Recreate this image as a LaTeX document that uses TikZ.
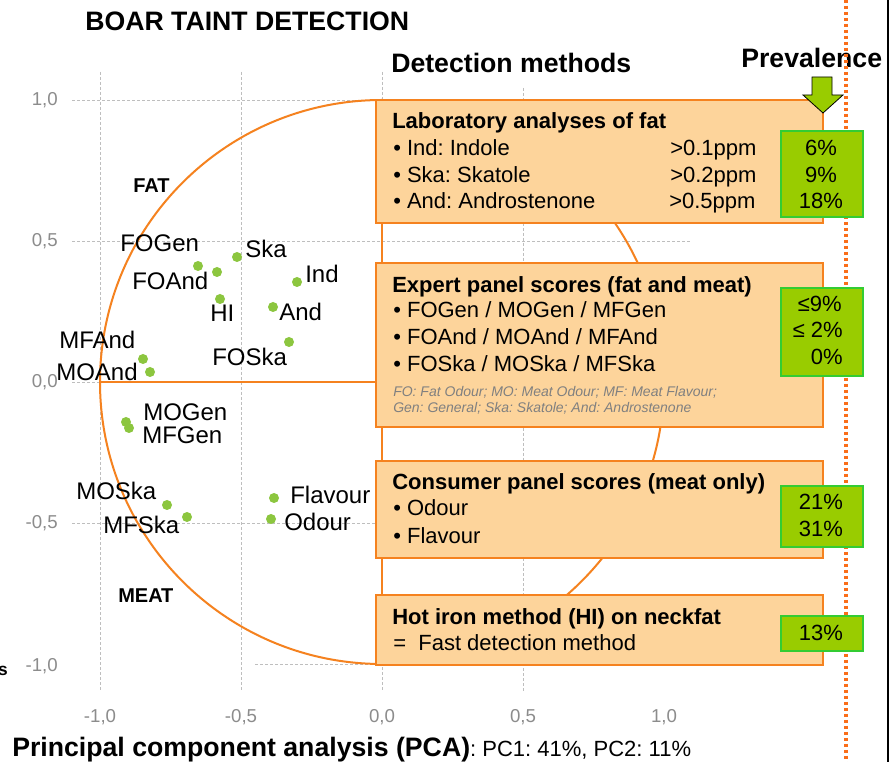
\documentclass[tikz,border=0pt]{standalone}
\usepackage{fontspec}
\setmainfont{Liberation Sans}
\definecolor{myorange}{RGB}{245,130,31}
\definecolor{dotorange}{RGB}{250,110,25}
\definecolor{boxfill}{RGB}{253,212,155}
\definecolor{gfill}{RGB}{153,204,0}
\definecolor{gborder}{RGB}{51,204,51}
\definecolor{dotgreen}{RGB}{140,198,63}
\definecolor{gridgrey}{RGB}{190,190,190}
\definecolor{tickgrey}{RGB}{140,140,140}
\definecolor{footgrey}{RGB}{128,128,128}
\begin{document}
\frenchspacing
\begin{tikzpicture}[x=0.75pt,y=-0.75pt,
  gridln/.style={draw=gridgrey, line width=0.6pt, dash pattern=on 2.25pt off 1.5pt},
  bigtitle/.style={inner sep=0pt, anchor=base west, font=\fontsize{20}{24}\selectfont\bfseries},
  boxhead/.style={inner sep=0pt, anchor=base west, font=\fontsize{16.5}{20}\selectfont\bfseries},
  boxtxt/.style={inner sep=0pt, anchor=base west, font=\fontsize{16.5}{20}\selectfont},
  pct/.style={inner sep=0pt, anchor=base, font=\fontsize{16.5}{20}\selectfont},
  pctr/.style={inner sep=0pt, anchor=base east, font=\fontsize{16.5}{20}\selectfont},
  foot/.style={inner sep=0pt, anchor=base west, font=\fontsize{10.5}{12}\selectfont\itshape, text=footgrey},
  lbl/.style={inner sep=0pt, anchor=base west, font=\fontsize{18}{21}\selectfont},
  zone/.style={inner sep=0pt, anchor=base west, font=\fontsize{15}{18}\selectfont\bfseries},
  ytick/.style={inner sep=0pt, anchor=base east, font=\fontsize{14}{16}\selectfont, text=tickgrey},
  xtick/.style={inner sep=0pt, anchor=base, font=\fontsize{14}{16}\selectfont, text=tickgrey},
  obox/.style={draw=myorange, fill=boxfill, line width=1.2pt},
  gbox/.style={draw=gborder, fill=gfill, line width=1.5pt},
  pdot/.style={circle, fill=dotgreen, inner sep=0pt, minimum size=7.5pt},
  oline/.style={draw=myorange, line width=1.5pt}]
\useasboundingbox (0,0) rectangle (896,762);
\fill[white] (0,0) rectangle (896,762);

% grid
\draw[gridln] (100,72) -- (100,692);
\draw[gridln] (241,72) -- (241,692);
\draw[gridln] (382,72) -- (382,692);
\draw[gridln] (523,88) -- (523,692);
\draw[gridln] (72,100) -- (382,100);
\draw[gridln] (72,241) -- (692,241);
\draw[gridln] (72,382) -- (382,382);
\draw[gridln] (72,523) -- (692,523);
\draw[gridln] (255,664) -- (382,664);

% tick labels
\node[ytick] (y10) at (58,106) {1,0};
\node[ytick] (y05) at (58,247) {0,5};
\node[ytick] (y00) at (58,388) {0,0};
\node[ytick] (ym05) at (58,529) {-0,5};
\node[ytick] (ym10) at (58,671) {-1,0};
\node[xtick] (xm10) at (100,722) {-1,0};
\node[xtick] (xm05) at (241,722) {-0,5};
\node[xtick] (x00) at (382,722) {0,0};
\node[xtick] (x05) at (523,722) {0,5};
\node[xtick] (x10) at (664,722) {1,0};
\node[inner sep=0pt, anchor=base east, font=\fontsize{13}{15}\selectfont\bfseries] (cuts) at (8,675) {s};

% correlation circle
\draw[oline] (382,382) circle[radius=211.5pt];
\draw[oline] (382,100) -- (382,664);
\draw[oline] (100,382) -- (382,382);

% titles
\node[bigtitle] (title) at (85,31) {BOAR TAINT DETECTION};
\node[bigtitle] (dm) at (391,73) {Detection methods};
\node[bigtitle] (prev) at (741,68) {Prevalence};

% zone labels
\node[zone] (fat) at (133,193) {FAT};
\node[zone] (meat) at (118,602) {MEAT};

% data points
\node[pdot] (pFOGen) at (198,266) {};
\node[pdot] (pFOAnd) at (217,272) {};
\node[pdot] (pSka) at (237,257) {};
\node[pdot] (pHI) at (220,299) {};
\node[pdot] (pInd) at (297,282) {};
\node[pdot] (pAnd) at (273,307) {};
\node[pdot] (pFOSka) at (289,342) {};
\node[pdot] (pMFAnd) at (143,359) {};
\node[pdot] (pMOAnd) at (150,372) {};
\node[pdot] (pMOGen) at (126,422) {};
\node[pdot] (pMFGen) at (129,428) {};
\node[pdot] (pMOSka) at (167,505) {};
\node[pdot] (pMFSka) at (187,517) {};
\node[pdot] (pFlav) at (274,498) {};
\node[pdot] (pOdour) at (271,519) {};

% data labels
\node[lbl] (lFOGen) at (120,252) {FOGen};
\node[lbl] (lSka) at (245,258) {Ska};
\node[lbl] (lFOAnd) at (132,290) {FOAnd};
\node[lbl] (lInd) at (305,283) {Ind};
\node[lbl] (lHI) at (210,322) {HI};
\node[lbl] (lAnd) at (279,321) {And};
\node[lbl] (lFOSka) at (212,366) {FOSka};
\node[lbl] (lMFAnd) at (59,349) {MFAnd};
\node[lbl] (lMOAnd) at (56,381) {MOAnd};
\node[lbl] (lMOGen) at (143,421) {MOGen};
\node[lbl] (lMFGen) at (142,444) {MFGen};
\node[lbl] (lMOSka) at (76,500) {MOSka};
\node[lbl] (lMFSka) at (103,533) {MFSka};
\node[lbl] (lFlav) at (290,504) {Flavour};
\node[lbl] (lOdour) at (284,531) {Odour};

% method boxes
\draw[obox] (376,100) rectangle (823,223);
\draw[obox] (376,263) rectangle (823,427);
\draw[obox] (376,461) rectangle (823,558);
\draw[obox] (376,595) rectangle (823,665);

% box 1
\node[boxhead] (h1) at (392,129) {Laboratory analyses of fat};
\node[boxtxt] (b11) at (393,156) {• Ind: Indole};
\node[boxtxt] (b12) at (393,183) {• Ska: Skatole};
\node[boxtxt] (b13) at (393,209) {• And: Androstenone};
\node[boxtxt] (t11) at (670,156) {>0.1ppm};
\node[boxtxt] (t12) at (670,183) {>0.2ppm};
\node[boxtxt] (t13) at (669,209) {>0.5ppm};

% box 2
\node[boxhead] (h2) at (392,293) {Expert panel scores (fat and meat)};
\node[boxtxt] (b21) at (393,318) {• FOGen / MOGen / MFGen};
\node[boxtxt] (b22) at (393,345) {• FOAnd / MOAnd / MFAnd};
\node[boxtxt] (b23) at (393,372) {• FOSka / MOSka / MFSka};
\node[foot] (f1) at (393,397) {FO: Fat Odour; MO: Meat Odour; MF: Meat Flavour;};
\node[foot] (f2) at (393,413) {Gen: General; Ska: Skatole; And: Androstenone};

% box 3
\node[boxhead] (h3) at (392,490) {Consumer panel scores (meat only)};
\node[boxtxt] (b31) at (393,516) {• Odour};
\node[boxtxt] (b32) at (393,543) {• Flavour};

% box 4
\node[boxhead] (h4) at (392,624) {Hot iron method (HI) on neckfat};
\node[boxtxt] (b41) at (393,650) {=\ \ Fast detection method};

% prevalence separator
\draw[draw=dotorange, line width=2.6pt, dash pattern=on 2.4pt off 2.1pt] (846,0) -- (846,762);
\draw[black, line width=1.6pt] (888,0) -- (888,762);

% arrow
\draw[fill=gfill, draw=black, line width=0.6pt] (812,77) -- (832,77) -- (832,95) -- (843,95) -- (823,113) -- (803,95) -- (812,95) -- cycle;

% green boxes
\draw[gbox] (781,131) rectangle (863,217);
\draw[gbox] (781,288) rectangle (863,376);
\draw[gbox] (781,486) rectangle (863,547);
\draw[gbox] (781,616) rectangle (863,651);

\node[pct] (g11) at (821,156) {6\%};
\node[pct] (g12) at (821,183) {9\%};
\node[pct] (g13) at (821,209) {18\%};
\node[pctr] (g21) at (842,312) {≤9\%};
\node[pctr] (g22) at (843,338) {≤ 2\%};
\node[pctr] (g23) at (843,365) {0\%};
\node[pct] (g31) at (821,510) {21\%};
\node[pct] (g32) at (821,537) {31\%};
\node[pct] (g41) at (821,640) {13\%};

% bottom caption
\node[inner sep=0pt, anchor=base west] (pca) at (12,756) {{\fontsize{20}{24}\selectfont\bfseries Principal component analysis (PCA)}{\fontsize{16.5}{20}\selectfont : PC1: 41\%, PC2: 11\%}};
\end{tikzpicture}
\end{document}
